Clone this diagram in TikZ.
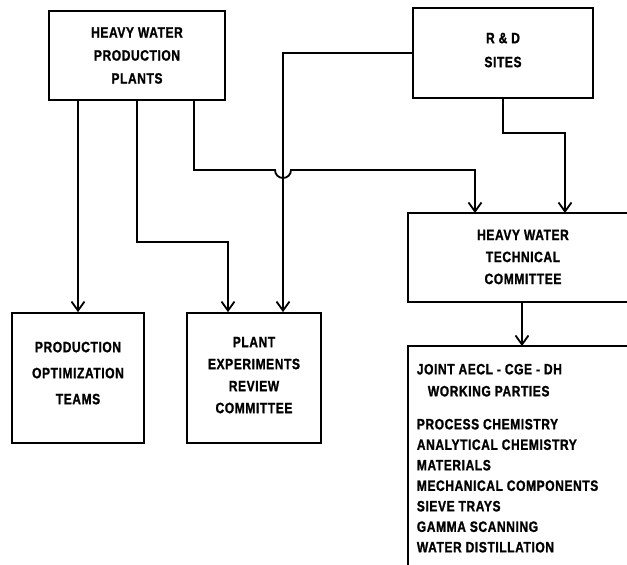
\documentclass[tikz,border=0pt]{standalone}
\usepackage{fontspec}
\newfontfamily\lett{Liberation Sans}[FakeStretch=0.8, LetterSpace=4, BoldFeatures={FakeBold=1.2}]
\usetikzlibrary{arrows.meta}
\begin{document}
\begin{tikzpicture}[x=1pt,y=-1pt,
  line width=1.8pt, line join=miter,
  boxed/.style={draw, rectangle, inner sep=0pt, align=center,
    font={\lett\bfseries\fontsize{15}{#1}\selectfont}},
  boxed/.default=23,
  plain/.style={inner sep=0pt, align=center,
    font={\lett\bfseries\fontsize{15}{#1}\selectfont}},
  listtext/.style={inner sep=0pt, align=left,
    font={\lett\bfseries\fontsize{15}{20.5}\selectfont}},
  arr/.style={-{Straight Barb[length=9pt,width=13pt,line width=1.8pt]}}]
\useasboundingbox (0,0) rectangle (627,565);
\clip (0,0) rectangle (627,565);

% boxes
\node[boxed=23, minimum width=176pt, minimum height=89pt] (hwpp) at (137,55.5)
  {HEAVY WATER\\PRODUCTION\\PLANTS};
\node[boxed=24, minimum width=180pt, minimum height=90pt] (rd) at (503,53)
  {R \& D\\SITES\\[-18pt]};
\node[boxed=26, minimum width=132pt, minimum height=130pt] (pot) at (78,378)
  {PRODUCTION\\OPTIMIZATION\\TEAMS\\[-16pt]};
\node[boxed=22, minimum width=134pt, minimum height=130pt] (perc) at (254,378)
  {PLANT\\EXPERIMENTS\\REVIEW\\COMMITTEE\\[-16pt]};

% heavy water technical committee (cut off at the right edge)
\coordinate (hwtcNE) at (627,213);
\coordinate (hwtcNW) at (408,213);
\coordinate (hwtcSW) at (408,302);
\coordinate (hwtcSE) at (627,302);
\draw (hwtcNE) -- (hwtcNW) -- (hwtcSW) -- (hwtcSE);
\node[plain=22] (hwtc) at (523,257) {HEAVY WATER\\TECHNICAL\\COMMITTEE};
\coordinate (hwtcIn1) at (475,213);
\coordinate (hwtcIn2) at (565,213);
\coordinate (hwtcOut) at (522,302);

% joint working parties (cut off at right and bottom)
\coordinate (jwNE) at (627,346);
\coordinate (jwNW) at (408,346);
\coordinate (jwSW) at (408,565);
\draw (jwNE) -- (jwNW) -- (jwSW);
\coordinate (jwIn) at (522,346);
\node[listtext, anchor=north west] (jw) at (416,363)
  {JOINT AECL - CGE - DH\\[1.5pt]
   \hspace*{11pt}WORKING PARTIES\\[12.5pt]
   PROCESS CHEMISTRY\\
   ANALYTICAL CHEMISTRY\\
   MATERIALS\\
   MECHANICAL COMPONENTS\\
   SIEVE TRAYS\\
   GAMMA SCANNING\\
   WATER DISTILLATION};

% connectors
\draw[arr] (pot.north |- hwpp.south) -- (pot.north);
\draw[arr] (hwpp.south) -- (hwpp.south |- 0,242) -| ([xshift=-26pt]perc.north);
\coordinate (jumpL) at (275,170);
\draw[arr] ([xshift=57pt]hwpp.south) |- (jumpL) arc[start angle=180, end angle=360, radius=8pt]
  -| (hwtcIn1);
\draw[arr] (rd.west) -| ([xshift=29pt]perc.north);
\draw[arr] (rd.south) -- (rd.south |- 0,133) -| (hwtcIn2);
\draw[arr] (hwtcOut) -- (jwIn);
\end{tikzpicture}
\end{document}
